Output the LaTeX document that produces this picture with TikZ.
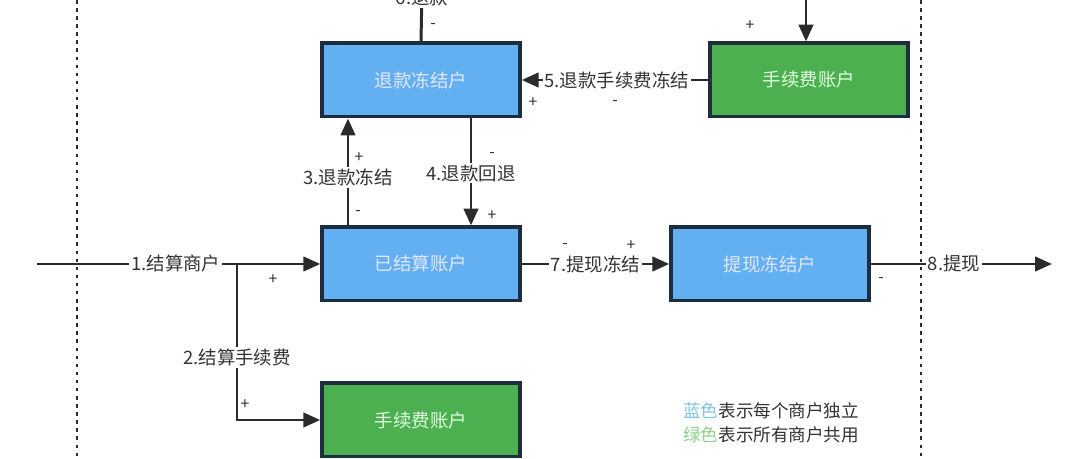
\documentclass[tikz,border=0pt]{standalone}
\usepackage{fontspec}
\setmainfont{Noto Sans CJK SC}
\usetikzlibrary{arrows.meta}
\definecolor{boxblue}{HTML}{62B0F2}
\definecolor{boxgreen}{HTML}{4CAF50}
\definecolor{edgedark}{HTML}{1E2E3E}
\definecolor{linedark}{HTML}{2B2B2B}
\definecolor{txtgray}{HTML}{333333}
\definecolor{legblue}{HTML}{80C6E6}
\definecolor{leggreen}{HTML}{8FD18F}
\begin{document}
\begin{tikzpicture}[x=0.02cm,y=-0.02cm,
  acct/.style={draw=edgedark,line width=2pt,minimum width=3.96cm,minimum height=1.47cm,
    inner sep=0pt,font=\fontsize{10.5pt}{12pt}\selectfont},
  bacct/.style={acct,fill=boxblue,text=white!90!blue},
  gacct/.style={acct,fill=boxgreen,text=white!88!green},
  wire/.style={draw=linedark,line width=1.7pt},
  conn/.style={wire,-{Triangle[length=0.34cm,width=0.29cm]}},
  lbl/.style={fill=white,inner sep=1pt,text=txtgray,font=\fontsize{10.5pt}{12pt}\selectfont},
  sgn/.style={inner sep=0pt,text=txtgray,font=\fontsize{9pt}{10pt}\selectfont},
  sep/.style={draw=linedark,line width=1.4pt,dash pattern=on 2pt off 2.6pt}]
\useasboundingbox (0,0) rectangle (1080,459);
\fill[white] (0,0) rectangle (1080,459);

% dotted boundaries
\coordinate (sepLt) at (77,0); \coordinate (sepLb) at (77,459);
\coordinate (sepRt) at (921,0); \coordinate (sepRb) at (921,459);
\draw[sep] (sepLt) -- (sepLb);
\draw[sep] (sepRt) -- (sepRb);

% accounts
\node[bacct] (tk) at (421,80) {退款冻结户};
\node[gacct] (fa) at (809,80) {手续费账户};
\node[bacct] (js) at (421,264) {已结算账户};
\node[bacct] (tx) at (770,264) {提现冻结户};
\node[gacct] (fb) at (421,420) {手续费账户};

% free ends
\coordinate (topin) at (806,-5);
\coordinate (out6) at (422,-10);
\coordinate (in1) at (37,264);
\coordinate (br) at (237,264);
\coordinate (out8) at (1052,264);
\coordinate (x3) at (348,0);
\coordinate (x4) at (471,0);

% top arrow into fee account
\draw[conn] (topin) -- (topin |- fa.north);
\node[sgn] (p0) at (750,26) {+};

% 6
\draw[wire] (tk.north) -- (out6);
\node[lbl] (l6) at (422,-2) {6.退款};
\node[sgn] (m6) at (433,26) {-};

% 5
\draw[conn] (fa.west) -- node[lbl,pos=0.49] (l5) {5.退款手续费冻结} (tk.east);
\node[sgn] (p5) at (533,103) {+};
\node[sgn] (m5) at (615,103) {-};

% 3
\draw[conn] (js.north -| x3) -- node[lbl,pos=0.45] (l3) {3.退款冻结} (tk.south -| x3);
\node[sgn] (p3) at (359,158) {+};
\node[sgn] (m3) at (358,213) {-};

% 4
\draw[conn] (tk.south -| x4) -- node[lbl,pos=0.51] (l4) {4.退款回退} (js.north -| x4);
\node[sgn] (m4) at (492,155) {-};
\node[sgn] (p4) at (492,216) {+};

% 1
\draw[conn] (in1) -- node[lbl,pos=0.49] (l1) {1.结算商户} (js.west);
\node[sgn] (p1) at (273,280) {+};

% 2
\draw[conn] (br) -- node[lbl,pos=0.6] (l2) {2.结算手续费} (br |- fb.west) -- (fb.west);
\node[sgn] (p2) at (245,405) {+};

% 7
\draw[conn] (js.east) -- node[lbl] (l7) {7.提现冻结} (tx.west);
\node[sgn] (m7) at (565,246) {-};
\node[sgn] (p7) at (631,246) {+};

% 8
\draw[conn] (tx.east) -- node[lbl,pos=0.46] (l8) {8.提现} (out8);
\node[sgn] (m8) at (881,280) {-};

% legend
\node[anchor=west,inner sep=0pt,text=txtgray,font=\fontsize{10pt}{12pt}\selectfont] (leg1) at (683,411) {\textcolor{legblue}{蓝色}表示每个商户独立};
\node[anchor=west,inner sep=0pt,text=txtgray,font=\fontsize{10pt}{12pt}\selectfont] (leg2) at (683,435) {\textcolor{leggreen}{绿色}表示所有商户共用};
\end{tikzpicture}
\end{document}
